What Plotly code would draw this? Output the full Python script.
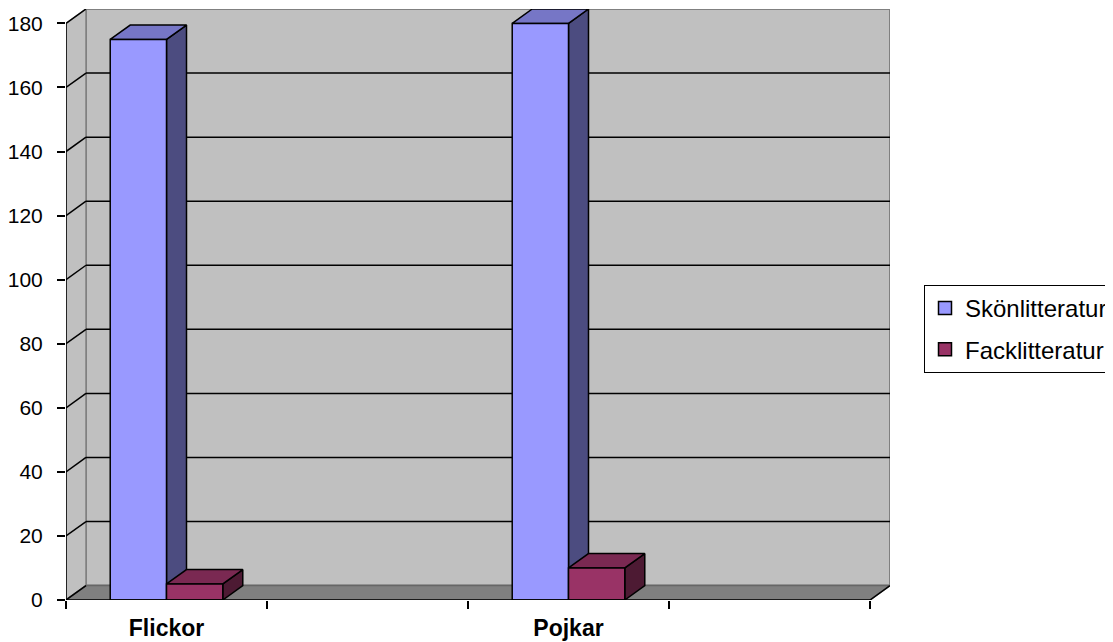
import plotly.graph_objects as go

# ---- data ----
categories = ["Flickor", "", "Pojkar", ""]
skonlitteratur = [175, None, 180, None]
facklitteratur = [5, None, 10, None]
series_names = ["Skönlitteratur", "Facklitteratur"]
y_ticks = [0, 20, 40, 60, 80, 100, 120, 140, 160, 180]

# ---- styling / geometry ----
front_colors = ["#9999FF", "#993366"]
top_colors = ["#7676C6", "#7A2952"]
side_colors = ["#4C4C80", "#4D1A33"]
BAR_W = 0.28
DX = 20 / 201          # depth offset in category units
DY = 4.5               # depth offset in value units
YMAX = y_ticks[-1]
X0, X1 = -0.5, len(categories) - 0.5

fig = go.Figure()

# walls & floor (shapes below traces)
shapes = []
shapes.append(dict(type="path", layer="below",
                   path=f"M {X0+DX},{DY} L {X1+DX},{DY} L {X1+DX},{YMAX+DY} L {X0+DX},{YMAX+DY} Z",
                   fillcolor="#C0C0C0", line=dict(color="#808080", width=2)))
shapes.append(dict(type="path", layer="below",
                   path=f"M {X0},0 L {X0+DX},{DY} L {X0+DX},{YMAX+DY} L {X0},{YMAX} Z",
                   fillcolor="#C0C0C0", line=dict(color="#808080", width=1.5)))
shapes.append(dict(type="path", layer="below",
                   path=f"M {X0},0 L {X1},0 L {X1+DX},{DY} L {X0+DX},{DY} Z",
                   fillcolor="#808080", line=dict(color="#666666", width=1.5)))
shapes.append(dict(type="line", layer="below", x0=X1, y0=0, x1=X1 + DX, y1=DY,
                   line=dict(color="black", width=1.5)))
for t in y_ticks:
    shapes.append(dict(type="line", layer="below", x0=X0, y0=t, x1=X0 + DX, y1=t + DY,
                       line=dict(color="black", width=1.5)))
    if 0 < t < YMAX:
        shapes.append(dict(type="line", layer="below", x0=X0 + DX, y0=t + DY, x1=X1 + DX, y1=t + DY,
                           line=dict(color="black", width=1.5)))
shapes.append(dict(type="line", layer="above", x0=X0, y0=0, x1=X0, y1=YMAX,
                   line=dict(color="black", width=1.5)))
shapes.append(dict(type="line", layer="above", x0=X0, y0=0, x1=X1, y1=0,
                   line=dict(color="black", width=1.5)))


def poly(xs, ys, color):
    fig.add_trace(go.Scatter(x=xs + [xs[0]], y=ys + [ys[0]], mode="lines", fill="toself",
                             fillcolor=color, line=dict(color="black", width=1.5),
                             showlegend=False, hoverinfo="skip"))


series = [skonlitteratur, facklitteratur]
for ci in range(len(categories)):
    for si, vals in enumerate(series):
        v = vals[ci]
        if v is None:
            continue
        x0 = ci - BAR_W + si * BAR_W
        x1 = x0 + BAR_W
        poly([x1, x1 + DX, x1 + DX, x1], [0, DY, v + DY, v], side_colors[si])
        poly([x0, x1, x1 + DX, x0 + DX], [v, v, v + DY, v + DY], top_colors[si])
        poly([x0, x1, x1, x0], [0, 0, v, v], front_colors[si])

for si, name in enumerate(series_names):
    fig.add_trace(go.Scatter(x=[None], y=[None], mode="markers", name=name,
                             legendgroup=name,
                             marker=dict(symbol="square", size=13, color=front_colors[si],
                                         line=dict(color="black", width=1.5))))

label_vals = [i for i, c in enumerate(categories) if c]
label_text = [c for c in categories if c]

# page body has an 8px margin, so the figure is offset by (8, 8)
fig.update_layout(
    width=1105, height=634,
    margin=dict(l=58, r=223, t=1, b=42, autoexpand=False),
    paper_bgcolor="white", plot_bgcolor="white",
    font=dict(family="Liberation Sans, Arial, sans-serif", color="black"),
    shapes=shapes,
    showlegend=True,
    legend=dict(x=(916 - 58) / 824, y=(592 - 277) / 591, xanchor="left", yanchor="top",
                bordercolor="black", borderwidth=1, bgcolor="white",
                font=dict(size=24), traceorder="grouped", tracegroupgap=7),
    xaxis=dict(range=[X0, X1 + DX], showgrid=False, zeroline=False, showline=False,
               tickmode="array", tickvals=label_vals, ticktext=label_text, ticks="",
               tickfont=dict(size=23, family="Liberation Sans, Arial, sans-serif", weight="bold"),
               ticklabelstandoff=12,
               minor=dict(tickmode="array", tickvals=[i - 0.5 for i in range(len(categories) + 1)],
                          ticks="outside", ticklen=8, tickcolor="black", tickwidth=1.5,
                          showgrid=False),
               fixedrange=True),
    yaxis=dict(range=[0, YMAX + DY], showgrid=False, zeroline=False, showline=False,
               tickmode="array", tickvals=y_ticks, ticks="outside", ticklen=8,
               tickcolor="black", tickwidth=1.5, tickfont=dict(size=21),
               ticklabelstandoff=10, fixedrange=True),
)

fig.write_html("out.html")
